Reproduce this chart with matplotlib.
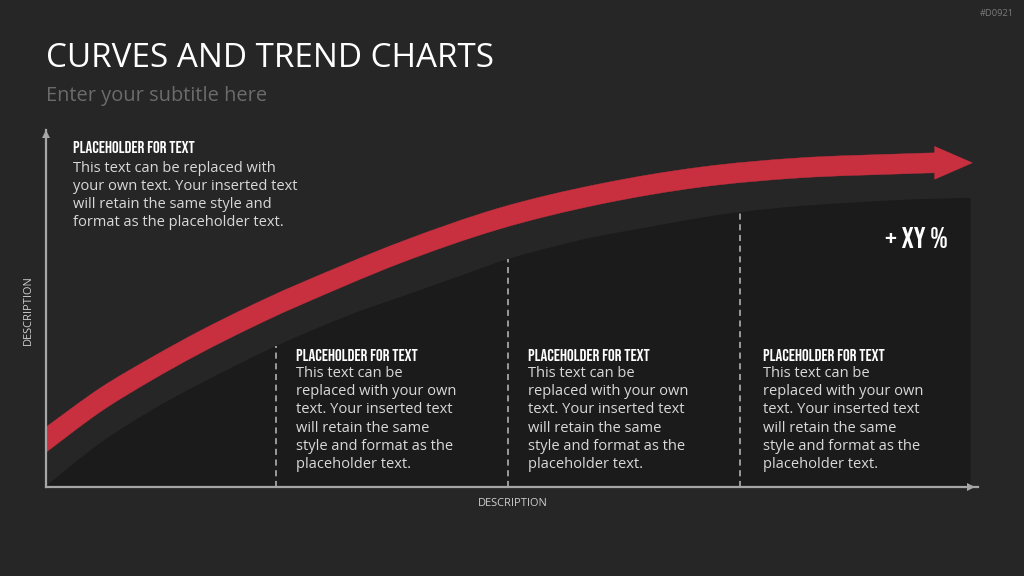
import numpy as np
import matplotlib
matplotlib.use("Agg")
import matplotlib.pyplot as plt
from matplotlib import font_manager as fm
from matplotlib.path import Path
from matplotlib.patches import PathPatch, Polygon

# trend band (upper / lower edge), chart units 0-100 on both axes
band_x = [0, 5.8, 11.2, 16.5, 21.9, 27.3, 38.0, 48.7, 59.4, 70.2, 80.9, 91.6, 95.4]
band_top = [16.8, 27.7, 36.1, 43.7, 50.7, 57.1, 68.6, 78.2, 84.9, 89.6, 92.2, 93.3, 93.6]
band_low = [9.7, 21.0, 29.7, 37.4, 44.5, 51.0, 62.7, 72.3, 79.2, 84.0, 86.6, 87.7, 88.0]

# shaded area under the trend
area_x = [0, 5.8, 11.2, 16.5, 24.7, 32.6, 38.0, 44.4, 49.6, 55.2, 59.4, 70.2, 74.5, 80.9, 91.6, 99.2]
area_y = [0.3, 12.3, 21.3, 28.9, 39.5, 48.2, 53.2, 59.1, 63.9, 67.8, 70.3, 75.4, 77.0, 78.7, 80.4, 81.0]

dividers = [24.7, 49.6, 74.5]

title = "CURVES AND TREND CHARTS"
subtitle = "Enter your subtitle here"
code = "#D0921"
header = "PLACEHOLDER FOR TEXT"
body_wide = ["This text can be replaced with",
             "your own text. Your inserted text",
             "will retain the same style and",
             "format as the placeholder text."]
body_narrow = ["This text can be",
               "replaced with your own",
               "text. Your inserted text",
               "will retain the same",
               "style and format as the",
               "placeholder text."]
growth = "+ XY %"
axis_label = "DESCRIPTION"

BG = "#262626"
DARK = "#1b1b1b"
RED = "#c8303f"
AXIS = "#a6a6a6"
SANS = ["Open Sans", "DejaVu Sans"]

# a condensed bold face for the small headings, if one is installed
HEAD = dict(family=["DejaVu Sans"], weight="bold")
names = {f.name for f in fm.fontManager.ttflist}
for n in ["Bebas Neue", "Oswald", "Roboto Condensed", "Open Sans Condensed",
          "Liberation Sans Narrow", "Noto Sans Condensed", "DejaVu Sans Condensed"]:
    if n in names:
        HEAD = dict(family=[n, "DejaVu Sans"], weight="bold")
        break
else:
    for f in fm.fontManager.ttflist:
        if "condensed" in str(f.stretch) and f.name in ("Roboto", "Open Sans", "Noto Sans",
                                                       "DejaVu Sans", "Liberation Sans"):
            HEAD = dict(family=[f.name], weight="bold", stretch=f.stretch)
            break

W, H = 1024, 576
fig = plt.figure(figsize=(W / 100, H / 100), dpi=100, facecolor=BG)


def px(x, y):
    return x / W, 1 - y / H


def fit(t, width, vertical=False):
    r = fig.canvas.get_renderer()
    bb = t.get_window_extent(r)
    w = bb.height if vertical else bb.width
    t.set_fontsize(t.get_fontsize() * width / w)
    return t.get_fontsize()


def smooth(x, y):
    # cubic (Catmull-Rom) path through the given points
    p = np.column_stack([x, y])
    verts = [p[0]]
    for i in range(len(p) - 1):
        p0 = p[max(i - 1, 0)]
        p3 = p[min(i + 2, len(p) - 1)]
        verts += [p[i] + (p[i + 1] - p0) / 6, p[i + 1] - (p3 - p[i]) / 6, p[i + 1]]
    return verts


ax = fig.add_axes([46 / W, 89 / H, 932 / W, 357 / H])
ax.set_facecolor("none")
ax.set_xlim(0, 100)
ax.set_ylim(0, 100)
ax.set_xticks([])
ax.set_yticks([])
for s in ["top", "right"]:
    ax.spines[s].set_visible(False)
for s in ["left", "bottom"]:
    ax.spines[s].set_color(AXIS)
    ax.spines[s].set_linewidth(1.6)
    ax.spines[s].set_zorder(5)
ax.plot([0.993], [0], marker=">", ms=6, color=AXIS, mew=0,
        transform=ax.transAxes, clip_on=False, zorder=6)
ax.plot([0], [0.99], marker="^", ms=6, color=AXIS, mew=0,
        transform=ax.transAxes, clip_on=False, zorder=6)

# dark area under the curve
top = smooth(area_x, area_y)
verts = top + [(area_x[-1], 0), (0, 0), (0, 0), top[0]]
codes = [Path.MOVETO] + [Path.CURVE4] * (len(top) - 1) + [Path.LINETO] * 3 + [Path.CLOSEPOLY]
ax.add_patch(PathPatch(Path(verts, codes), fc=DARK, ec="none", zorder=1))
for xv in dividers:
    ax.plot([xv, xv], [0, np.interp(xv, area_x, area_y)], color="#bdbdbd",
            lw=1.1, ls=(0, (4, 3)), zorder=2)

# red trend band + arrow head
up = smooth(band_x, band_top)
lo = smooth(band_x[::-1], band_low[::-1])
verts = up + lo + [up[0]]
codes = ([Path.MOVETO] + [Path.CURVE4] * (len(up) - 1) + [Path.LINETO]
         + [Path.CURVE4] * (len(lo) - 1) + [Path.CLOSEPOLY])
ax.add_patch(PathPatch(Path(verts, codes), fc=RED, ec=RED, lw=0.3, zorder=3))
xe = band_x[-1]
ym = (band_top[-1] + band_low[-1]) / 2
ax.add_patch(Polygon([[xe - 0.05, ym + 4.6], [xe + 4.0, ym], [xe - 0.05, ym - 4.6]],
                     closed=True, fc=RED, ec=RED, lw=0.3, zorder=3))

# texts
t = fig.text(*px(46, 67), title, color="white", family=SANS, fontsize=24, va="baseline")
fit(t, 448)
t = fig.text(*px(46, 101), subtitle, color="#6b6b6b", family=SANS, fontsize=14, va="baseline")
fit(t, 222)
t = fig.text(*px(1014, 13), code, color="#7a7a7a", family=SANS, fontsize=6.5,
             ha="right", va="center")
fit(t, 34)

probe = fig.text(0, 0, body_wide[1], family=SANS, fontsize=10)
body_size = fit(probe, 223)
probe.remove()
probe = fig.text(0, 0, header, fontsize=10, **HEAD)
head_size = fit(probe, 122)
probe.remove()

blocks = [(73, 153, 171.5, body_wide), (296, 361, 377, body_narrow),
          (528, 361, 377, body_narrow), (763, 361, 377, body_narrow)]
for x0, yh, yb, lines in blocks:
    fig.text(*px(x0, yh), header, color="white", fontsize=head_size,
             va="baseline", **HEAD)
    for i, line in enumerate(lines):
        fig.text(*px(x0, yb + 18.2 * i), line, color="#d9d9d9", family=SANS,
                 fontsize=body_size, va="baseline")

t = fig.text(*px(885, 248), growth, color="white", fontsize=16, va="baseline", **HEAD)
fit(t, 63)

t = fig.text(*px(513, 504), axis_label, color="#d0d0d0", family=SANS, fontsize=6.5,
             ha="center", va="center")
fit(t, 69)
t = fig.text(*px(28, 310), axis_label, color="#d0d0d0", family=SANS, fontsize=6.5,
             ha="center", va="center", rotation=90)
fit(t, 69, vertical=True)

fig.savefig("out.png", dpi=100, facecolor=BG)
